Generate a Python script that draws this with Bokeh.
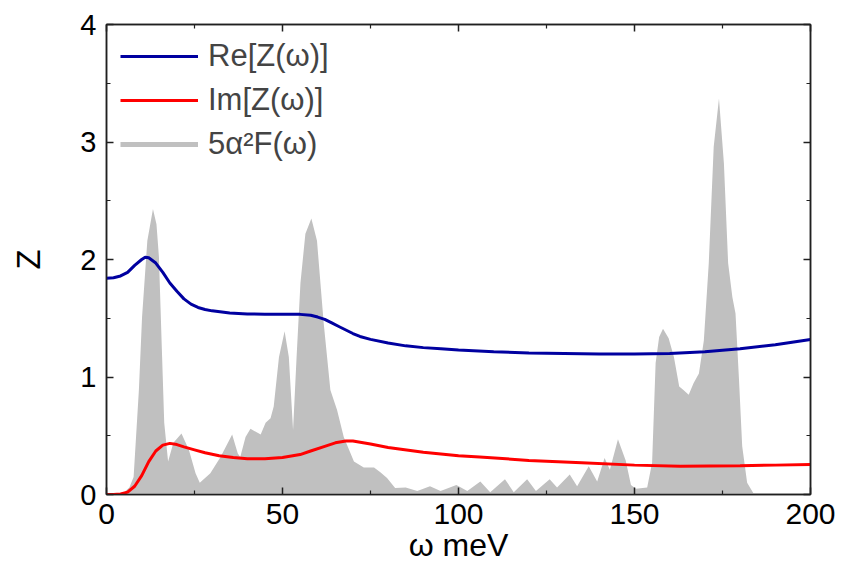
from bokeh.plotting import figure
from bokeh.models import LinearAxis, FixedTicker, Legend, LegendItem, Range1d, ColumnDataSource
from bokeh.embed import file_html
from bokeh.resources import INLINE

# ---- data ----
re_w = [0, 2, 4, 6, 8, 10, 11, 12, 14, 16, 18, 20, 22, 24, 26, 28, 30, 35, 40, 45, 50, 55, 58, 60, 62, 64, 66, 68,
        70, 72, 75, 80, 85, 90, 95, 100, 110, 120, 130, 140, 150, 160, 170, 180, 190, 200]
re_z = [1.84, 1.845, 1.86, 1.89, 1.95, 2.00, 2.02, 2.015, 1.97, 1.89, 1.80, 1.73, 1.665, 1.62, 1.592, 1.575, 1.563,
        1.545, 1.537, 1.534, 1.533, 1.533, 1.525, 1.51, 1.49, 1.46, 1.43, 1.40, 1.37, 1.345, 1.32, 1.29, 1.265,
        1.25, 1.24, 1.23, 1.215, 1.205, 1.20, 1.195, 1.195, 1.20, 1.215, 1.24, 1.275, 1.32]

im_w = [0, 2, 4, 6, 8, 10, 12, 14, 16, 18, 20, 22, 25, 28, 32, 36, 40, 45, 50, 55, 58, 62, 65, 68, 70, 75, 80,
        90, 100, 106, 120, 135, 150, 163, 180, 190, 200]
im_z = [0.0, 0.0, 0.005, 0.02, 0.07, 0.16, 0.28, 0.37, 0.42, 0.435, 0.425, 0.405, 0.38, 0.355, 0.33, 0.315, 0.305,
        0.305, 0.315, 0.34, 0.37, 0.41, 0.44, 0.455, 0.455, 0.43, 0.40, 0.36, 0.33, 0.32, 0.29, 0.27, 0.25, 0.24,
        0.245, 0.25, 0.255]

a2f_w = [0, 3, 5, 6.5, 7.7, 9.2, 10.1, 11.6, 13.2, 14.2, 14.9, 15.8, 16.4, 17.5, 19, 21.3, 23.4, 25.3, 26.5, 29.5,
         32.4, 35.7, 37.3, 38, 39.5, 40.9, 43.8, 45.2, 46.6, 47.5, 49, 50.6, 51.8, 53, 54, 55.1, 56.5, 58.2, 59.8,
         61.7, 63.6, 65.5, 67.4, 70.3, 73.1, 76, 77.8, 79.7, 82, 85, 88.3, 91.9, 94.9, 99.4, 102.5, 106.2, 109,
         113.2, 115.7, 119.5, 122, 125.9, 128, 131.6, 133.7, 137, 139.4, 141.5, 143, 145.3, 147.5, 149, 150.4,
         153.6, 155, 156, 157, 158.1, 159.7, 161.2, 162.7, 163.9, 165.4, 166.8, 168.3, 169.7, 171.1, 172.5, 174,
         175.4, 176.6, 177.8, 178.7, 179.7, 180.6, 182, 184, 200]
a2f_z = [0, 0, 0.02, 0.06, 0.15, 0.89, 1.51, 2.16, 2.43, 2.3, 2.02, 1.17, 0.61, 0.28, 0.44, 0.52, 0.38, 0.18, 0.10,
         0.18, 0.32, 0.51, 0.35, 0.32, 0.49, 0.56, 0.51, 0.61, 0.65, 0.75, 1.17, 1.39, 1.17, 0.55, 1.17, 1.80, 2.22,
         2.35, 2.16, 1.46, 0.89, 0.72, 0.49, 0.28, 0.23, 0.23, 0.19, 0.14, 0.055, 0.06, 0.03, 0.07, 0.03, 0.08,
         0.03, 0.11, 0.02, 0.13, 0.02, 0.13, 0.03, 0.13, 0.06, 0.17, 0.07, 0.24, 0.11, 0.31, 0.21, 0.47, 0.29,
         0.08, 0.05, 0.06, 0.27, 1.12, 1.34, 1.41, 1.33, 1.17, 0.92, 0.89, 0.85, 0.95, 1.03, 1.31, 1.97, 2.96,
         3.37, 2.82, 1.97, 1.68, 1.54, 0.97, 0.41, 0.10, 0, 0]

x_ticks = [0, 50, 100, 150, 200]
x_minor = [25, 75, 125, 175]
y_ticks = [0, 1, 2, 3, 4]
y_minor = [0.5, 1.5, 2.5, 3.5]
labels = ["Re[Z(\u03c9)]", "Im[Z(\u03c9)]", "5\u03b1\u00b2F(\u03c9)"]

FONT = "Liberation Sans"
AX = "#202020"

p = figure(width=842, height=571, output_backend="svg", toolbar_location=None,
           x_range=Range1d(0, 200), y_range=Range1d(0, 4),
           min_border_left=106, min_border_right=32, min_border_top=24, min_border_bottom=77,
           x_axis_label="\u03c9 meV", y_axis_label="Z")
p.grid.visible = False
p.outline_line_color = AX
p.outline_line_width = 1.5
p.background_fill_color = "white"
p.border_fill_color = "white"

g = p.varea(x=a2f_w, y1=0, y2=a2f_z, fill_color="#c0c0c0")
r1 = p.line(re_w, re_z, line_color="#0000a0", line_width=3)
r2 = p.line(im_w, im_z, line_color="#ff0000", line_width=3)
# legend proxy for the filled spectrum (one point with no value: nothing drawn in the plot)
r3 = p.line(x="x", y="y", source=ColumnDataSource(dict(x=a2f_w[:1], y=[float("nan")])),
            line_color="#c0c0c0", line_width=5)

def style(ax, ticks, minor, show_labels=True):
    ax.ticker = FixedTicker(ticks=ticks, minor_ticks=minor)
    ax.axis_line_color = AX
    ax.axis_line_width = 1.5
    ax.major_tick_line_color = AX
    ax.minor_tick_line_color = AX
    ax.major_tick_line_width = 1.5
    ax.minor_tick_line_width = 1.2
    ax.major_tick_in = 7
    ax.major_tick_out = 0
    ax.minor_tick_in = 4
    ax.minor_tick_out = 0
    ax.major_label_text_font = FONT
    ax.major_label_text_color = "black"
    ax.axis_label_text_font = FONT
    ax.axis_label_text_font_style = "normal"
    ax.axis_label_text_color = "black"
    if not show_labels:
        ax.major_label_text_font_size = "0px"
        ax.major_label_standoff = 0

style(p.xaxis[0], x_ticks, x_minor)
style(p.yaxis[0], y_ticks, y_minor)
p.xaxis[0].major_label_text_font_size = "30px"
p.xaxis[0].axis_label_text_font_size = "32px"
p.xaxis[0].major_label_standoff = 9
p.xaxis[0].axis_label_standoff = 0
p.yaxis[0].major_label_text_font_size = "29px"
p.yaxis[0].axis_label_text_font_size = "33px"
p.yaxis[0].major_label_standoff = 10
p.yaxis[0].axis_label_standoff = 30

top = LinearAxis()
style(top, x_ticks, x_minor, show_labels=False)
p.add_layout(top, "above")
right = LinearAxis()
style(right, y_ticks, y_minor, show_labels=False)
p.add_layout(right, "right")

legend = Legend(items=[LegendItem(label=labels[0], renderers=[r1]),
                       LegendItem(label=labels[1], renderers=[r2]),
                       LegendItem(label=labels[2], renderers=[r3])],
                location="top_left")
legend.border_line_color = None
legend.background_fill_alpha = 0
legend.label_text_font = FONT
legend.label_text_font_size = "31px"
legend.glyph_width = 78
legend.glyph_height = 30
legend.label_height = 30
legend.label_standoff = 10
legend.spacing = 8
legend.margin = 14
legend.padding = 11
p.add_layout(legend)

open("out.html", "w").write(file_html(p, INLINE))
